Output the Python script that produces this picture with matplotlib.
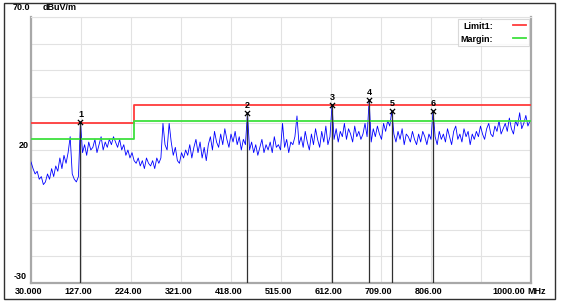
import matplotlib
matplotlib.use("Agg")
import matplotlib.pyplot as plt
import matplotlib.patches as patches

# ---- trace, one value every 4 MHz from 30 MHz ----
freq_start = 30
freq_step = 4
level = [
    15.5, 13, 11, 12, 9, 10,
    7, 8, 11, 9, 13, 10, 14,
    12, 17, 13, 18, 15, 19,
    25,
    11, 9, 8, 10,
    30.5,
    19, 22, 18, 23, 20, 21,
    24, 19, 22, 25, 20, 23, 21, 24,
    22, 25, 23, 21, 24, 20, 22,
    18, 20, 17, 19, 16,
    15, 17, 14, 16, 13, 17, 15, 14, 16, 13, 17, 15,
    17, 30, 22, 20, 30,
    23, 18, 21, 16, 15, 19, 17, 20,
    18, 22, 17, 21, 24, 19, 23, 17, 21, 16,
    22, 25, 20, 27, 23, 21, 26, 22, 28, 24, 21, 26, 23, 27, 22, 25, 20, 24, 22,
    34,
    20, 23, 19, 22, 18, 21, 24, 19, 22, 20,
    23, 19, 25, 21, 22, 20, 30, 21, 24, 19, 23, 22, 25,
    32.8, 22,
    25, 21, 27, 23, 20, 26, 22, 28, 24, 21, 27, 23, 29, 22, 25,
    37,
    24, 28, 23, 27, 25, 30, 24, 28, 26, 23, 29, 25, 27, 24,
    26, 30, 25,
    38.8,
    23, 28, 25, 29, 26, 24, 30, 27, 31, 29,
    34.7,
    26, 23, 27, 24, 28, 22, 26, 25, 23, 27, 24, 22, 26, 23, 27, 25, 22, 26,
    24, 34.7,
    25, 22, 27, 24, 26, 23, 28, 25, 22, 27, 29, 24, 26, 23, 28, 25, 27, 22, 26, 24,
    27, 25, 29, 26, 24, 28, 30, 26, 25, 29, 27, 31, 26, 28, 30, 27, 32, 28, 26, 31,
    29, 34, 28, 30, 33, 29, 31,
]
freq = [freq_start + freq_step * i for i in range(len(level))]

# limit and margin lines
limit_freq = [30, 230, 230, 1000]
limit_level = [30, 30, 37, 37]
margin_level = [24, 24, 31, 31]

# peak markers
marker_id = ["1", "2", "3", "4", "5", "6"]
marker_freq = [126, 450, 614, 686, 730, 810]
marker_level = [30.5, 34, 37, 38.8, 34.7, 34.7]

# axes
x_ticks = [30, 127, 224, 321, 418, 515, 612, 709, 806, 903, 1000]
x_labels = ["30.000", "127.00", "224.00", "321.00", "418.00", "515.00",
            "612.00", "709.00", "806.00", "", "1000.00"]
y_ticks = [-30, -20, -10, 0, 10, 20, 30, 40, 50, 60, 70]
y_labels = {70: "70.0", 20: "20", -30: "-30"}
y_unit = "dBuV/m"
x_unit = "MHz"

W, H = 564, 305
fig = plt.figure(figsize=(W / 100, H / 100), dpi=100)
ax = fig.add_axes([31 / W, 22 / H, 500 / W, 266 / H])

# outer frame
fig.add_artist(patches.Rectangle((4 / W, 6 / H), 551 / W, 296 / H,
                                 transform=fig.transFigure, fill=False,
                                 ec="#303030", lw=1))

font = dict(family=["Liberation Sans", "DejaVu Sans"], weight="bold", size=6.5)

ax.set_xlim(30, 1000)
ax.set_ylim(-30, 70)
ax.set_xticks(x_ticks)
ax.set_yticks(y_ticks)
ax.set_xticklabels([])
ax.set_yticklabels([])
ax.tick_params(length=0)
ax.grid(True, color="#e2e2e2", lw=0.8)
ax.set_axisbelow(True)
for s in ["left", "right", "bottom"]:
    ax.spines[s].set_color("#a8a8a8")
    ax.spines[s].set_linewidth(1.6)
ax.spines["top"].set_color("#e2e2e2")
ax.spines["top"].set_linewidth(0.8)

# trace, limits
ax.plot(freq, level, color="#0000ff", lw=0.6, zorder=3)
ax.plot(limit_freq, limit_level, color="#ff3b3b", lw=1.3, zorder=4, label="Limit1:")
ax.plot(limit_freq, margin_level, color="#3ee03e", lw=1.3, zorder=4, label="Margin:")

# markers
ax.vlines(marker_freq, -30, marker_level, colors="#303030", lw=0.9, zorder=5)
ax.scatter(marker_freq, marker_level, marker="x", s=14, c="black", lw=0.9, zorder=6)
for mid, f, lv in zip(marker_id, marker_freq, marker_level):
    ax.annotate(mid, (f, lv), xytext=(0, 2), textcoords="offset points",
                ha="center", va="bottom", zorder=7, **font)

# tick labels
for t, lab in zip(x_ticks[:-1], x_labels[:-1]):
    if lab:
        ax.annotate(lab, (t, 0), xycoords=("data", "axes fraction"),
                    xytext=(-2, -3), textcoords="offset points",
                    ha="center", va="top", **font)
ax.annotate(x_labels[-1], (x_ticks[-1], 0), xycoords=("data", "axes fraction"),
            xytext=(-4.5, -3), textcoords="offset points", ha="right", va="top", **font)
ax.annotate(x_unit, (x_ticks[-1], 0), xycoords=("data", "axes fraction"),
            xytext=(-2.9, -3), textcoords="offset points", ha="left", va="top", **font)

ax.annotate(y_labels[70], (0, 70), xycoords=("axes fraction", "data"),
            xytext=(-0.7, 3.6), textcoords="offset points", ha="right", va="bottom", **font)
ax.annotate(y_unit, (0, 70), xycoords=("axes fraction", "data"),
            xytext=(8.6, 3.6), textcoords="offset points", ha="left", va="bottom", **font)
ax.annotate(y_labels[20], (0, 20), xycoords=("axes fraction", "data"),
            xytext=(-1.4, 0), textcoords="offset points", ha="right", va="bottom", **font)
ax.annotate(y_labels[-30], (0, -30), xycoords=("axes fraction", "data"),
            xytext=(-3, 1.5), textcoords="offset points", ha="right", va="bottom", **font)

leg = ax.legend(loc="upper right", markerfirst=False, frameon=True, fancybox=False,
                prop=dict(family="Liberation Sans", weight="bold", size=6.5),
                handlelength=1.5, handletextpad=2.2, borderpad=0.3,
                labelspacing=0.45, borderaxespad=0.2)
leg.get_frame().set_edgecolor("#d0d0d0")
leg.get_frame().set_linewidth(0.8)
leg.set_zorder(8)

fig.savefig("out.png", dpi=100)
